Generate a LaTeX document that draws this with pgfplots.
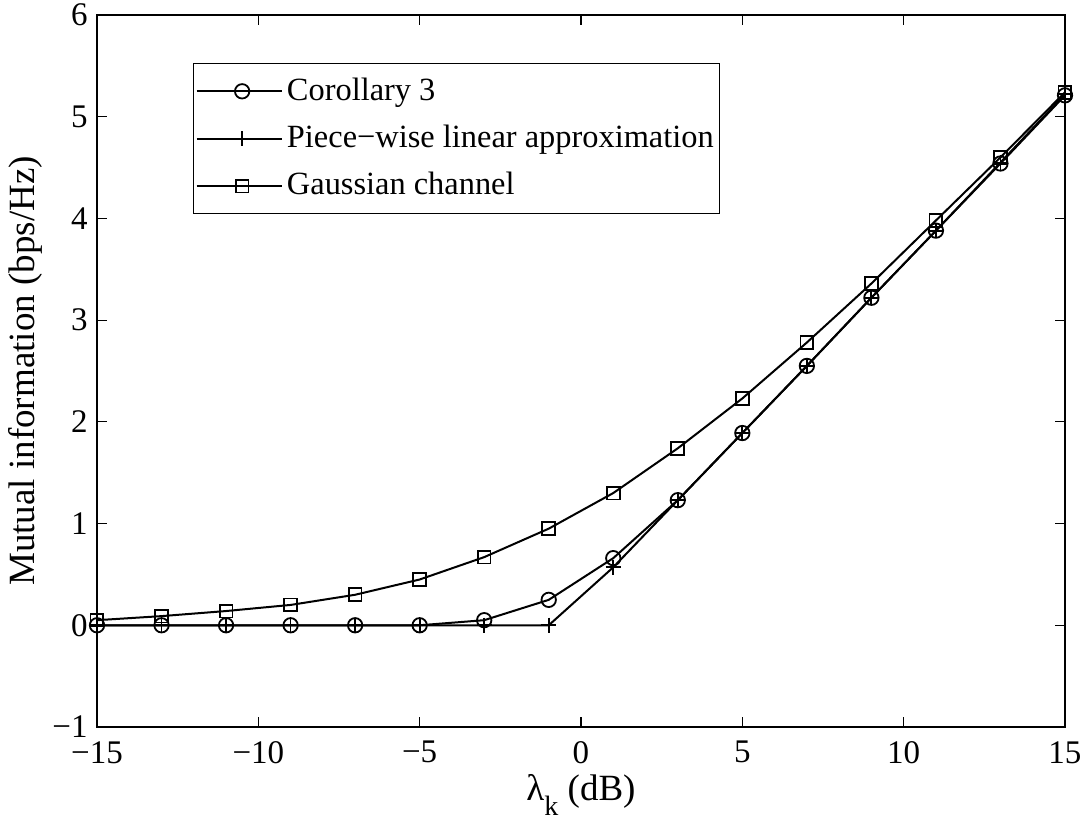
\documentclass[border=0pt]{standalone}
\usepackage{fontspec}
\setmainfont{Liberation Serif}
\usepackage{pgfplots}
\pgfplotsset{compat=1.18}

\begin{document}
\fontsize{16.5}{19}\selectfont
\begin{tikzpicture}
% fix the page to the reference proportions (1084 x 823 px, 1 px = 0.5 pt)
\path[use as bounding box] (-48.5pt,-48pt) rectangle (493.5pt,363.5pt);
\begin{axis}[
    at={(0,0)}, anchor=south west,
    scale only axis,
    width=484pt, height=356pt,
    xmin=-15, xmax=15, ymin=-1, ymax=6,
    xtick={-15,-10,...,15},
    xticklabels={−15\hspace{11pt},−10\hspace{11pt},−5\hspace{11pt},0,5,10,15},
    ytick={-1,0,...,6},
    yticklabels={−1,0,1,2,3,4,5,6},
    tick align=inside,
    major tick length=5pt,
    axis line style={line width=0.75pt},
    every tick/.style={black, line width=0.6pt},
    tick label style={font=\fontsize{16.5}{19}\selectfont},
    xticklabel style={inner ysep=0pt, yshift=-7pt},
    yticklabel style={inner xsep=0pt, inner ysep=0pt, xshift=-4.5pt},
    xlabel={λ\raisebox{-0.4em}{\fontsize{14}{15}\selectfont k} (dB)},
    ylabel={Mutual information (bps/Hz)},
    label style={font=\fontsize{18.5}{21}\selectfont},
    xlabel style={at={(rel axis cs:0.5,0)}, anchor=north, inner ysep=0pt, yshift=-23.5pt},
    ylabel style={yshift=-0.5pt},
    legend style={at={(rel axis cs:0.0992,0.9326)}, anchor=north west,
        draw=black, line width=0.6pt, font=\fontsize{16.2}{19}\selectfont,
        inner xsep=1pt, inner ysep=5pt, row sep=6pt},
    legend cell align=left,
    legend image code/.code={
        \path (0cm,0cm) -- (1.5cm,0cm);
        \draw[mark repeat=2,mark phase=2,#1]
            plot coordinates {(0.2cm,0cm) (0.8cm,0cm) (1.4cm,0cm)};
    },
]
\addplot[black, line width=1pt, mark=o, mark size=3.6pt, mark options={line width=0.9pt}]
coordinates {
    (-15,0) (-13,0) (-11,0) (-9,0) (-7,0) (-5,0) (-3,0.05) (-1,0.25)
    (1,0.66) (3,1.23) (5,1.89) (7,2.55) (9,3.22) (11,3.88) (13,4.54) (15,5.21)
};
\addlegendentry{Corollary 3}

\addplot[black, line width=1pt, mark=+, mark size=3.8pt, mark options={line width=0.9pt}]
coordinates {
    (-15,0) (-13,0) (-11,0) (-9,0) (-7,0) (-5,0) (-3,0) (-1,0)
    (1,0.57) (3,1.23) (5,1.89) (7,2.55) (9,3.22) (11,3.88) (13,4.55) (15,5.22)
};
\addlegendentry{Piece−wise linear approximation}

\addplot[black, line width=1pt, mark=square, mark size=3.2pt, mark options={line width=0.9pt}]
coordinates {
    (-15,0.05) (-13,0.09) (-11,0.14) (-9,0.2) (-7,0.3) (-5,0.45) (-3,0.67) (-1,0.95)
    (1,1.3) (3,1.74) (5,2.23) (7,2.78) (9,3.36) (11,3.98) (13,4.6) (15,5.24)
};
\addlegendentry{Gaussian channel}
\end{axis}
\end{tikzpicture}
\end{document}
